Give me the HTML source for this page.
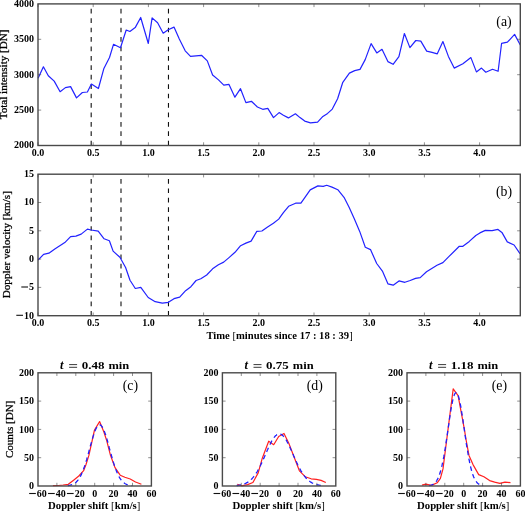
<!DOCTYPE html><html><head><meta charset="utf-8"><style>html,body{margin:0;padding:0;background:#fff;overflow:hidden}svg{display:block;will-change:transform}</style></head><body><svg width="525" height="511" viewBox="0 0 525 511">
<rect width="525" height="511" fill="#fff"/>
<line x1="91.19" y1="145.5" x2="91.19" y2="3.9" stroke="#111" stroke-width="1.1" stroke-dasharray="4.7 4.73"/>
<line x1="121.00" y1="145.5" x2="121.00" y2="3.9" stroke="#111" stroke-width="1.1" stroke-dasharray="4.7 4.73"/>
<line x1="168.47" y1="145.5" x2="168.47" y2="3.9" stroke="#111" stroke-width="1.1" stroke-dasharray="4.7 4.73"/>
<polyline points="38.1,78.2 43.4,66.8 48.3,75.8 54.2,81.1 60.1,91.7 65.4,87.6 70.6,86.6 76.5,97.9 82.4,92.5 87.4,92.0 91.4,84.1 98.4,88.5 103.9,68.4 109.5,57.5 113.5,44.3 120.5,47.8 126.2,30.0 129.9,31.5 135.2,27.6 140.7,17.5 148.3,43.5 152.1,17.9 157.6,22.8 163.2,33.2 168.2,29.7 174.0,27.1 179.3,39.0 185.2,50.8 190.5,56.3 201.5,55.3 207.3,60.9 212.6,75.0 218.5,79.9 223.8,85.2 229.0,84.4 234.9,97.2 240.5,88.7 245.9,102.6 251.4,101.3 257.4,107.0 262.7,109.3 267.8,108.4 273.5,117.6 279.1,112.6 283.4,115.2 288.4,117.9 295.4,113.8 300.0,117.6 304.7,121.1 310.5,122.8 317.6,122.2 322.9,116.4 327.6,113.4 332.3,109.1 337.6,98.8 342.8,82.3 349.4,73.1 354.7,70.6 360.0,69.4 365.2,59.6 371.1,43.6 376.8,52.9 382.0,49.3 387.9,61.6 393.1,64.3 398.9,56.6 404.4,33.5 409.9,47.6 415.8,40.5 420.8,41.1 426.7,51.1 432.0,52.3 437.3,53.8 442.9,41.5 448.4,56.4 454.2,68.1 462.9,63.7 470.9,57.6 476.4,71.9 481.5,68.1 485.8,72.2 492.5,69.3 498.1,71.3 501.6,43.3 507.4,42.2 514.6,34.4 520.3,45.0" fill="none" stroke="#2222ff" stroke-width="1.2" stroke-linejoin="round" />
<rect x="38.0" y="3.9" width="482.30" height="141.60" fill="none" stroke="#4a4a4a" stroke-width="1.4"/>
<line x1="38.00" y1="145.5" x2="38.00" y2="142.3" stroke="#444" stroke-width="0.6"/>
<line x1="38.00" y1="3.9" x2="38.00" y2="7.1" stroke="#444" stroke-width="0.6"/>
<line x1="93.20" y1="145.5" x2="93.20" y2="142.3" stroke="#444" stroke-width="0.6"/>
<line x1="93.20" y1="3.9" x2="93.20" y2="7.1" stroke="#444" stroke-width="0.6"/>
<line x1="148.40" y1="145.5" x2="148.40" y2="142.3" stroke="#444" stroke-width="0.6"/>
<line x1="148.40" y1="3.9" x2="148.40" y2="7.1" stroke="#444" stroke-width="0.6"/>
<line x1="203.60" y1="145.5" x2="203.60" y2="142.3" stroke="#444" stroke-width="0.6"/>
<line x1="203.60" y1="3.9" x2="203.60" y2="7.1" stroke="#444" stroke-width="0.6"/>
<line x1="258.80" y1="145.5" x2="258.80" y2="142.3" stroke="#444" stroke-width="0.6"/>
<line x1="258.80" y1="3.9" x2="258.80" y2="7.1" stroke="#444" stroke-width="0.6"/>
<line x1="314.00" y1="145.5" x2="314.00" y2="142.3" stroke="#444" stroke-width="0.6"/>
<line x1="314.00" y1="3.9" x2="314.00" y2="7.1" stroke="#444" stroke-width="0.6"/>
<line x1="369.20" y1="145.5" x2="369.20" y2="142.3" stroke="#444" stroke-width="0.6"/>
<line x1="369.20" y1="3.9" x2="369.20" y2="7.1" stroke="#444" stroke-width="0.6"/>
<line x1="424.40" y1="145.5" x2="424.40" y2="142.3" stroke="#444" stroke-width="0.6"/>
<line x1="424.40" y1="3.9" x2="424.40" y2="7.1" stroke="#444" stroke-width="0.6"/>
<line x1="479.60" y1="145.5" x2="479.60" y2="142.3" stroke="#444" stroke-width="0.6"/>
<line x1="479.60" y1="3.9" x2="479.60" y2="7.1" stroke="#444" stroke-width="0.6"/>
<line x1="38.0" y1="110.10" x2="41.2" y2="110.10" stroke="#444" stroke-width="0.6"/>
<line x1="520.3" y1="110.10" x2="517.0999999999999" y2="110.10" stroke="#444" stroke-width="0.6"/>
<line x1="38.0" y1="74.70" x2="41.2" y2="74.70" stroke="#444" stroke-width="0.6"/>
<line x1="520.3" y1="74.70" x2="517.0999999999999" y2="74.70" stroke="#444" stroke-width="0.6"/>
<line x1="38.0" y1="39.30" x2="41.2" y2="39.30" stroke="#444" stroke-width="0.6"/>
<line x1="520.3" y1="39.30" x2="517.0999999999999" y2="39.30" stroke="#444" stroke-width="0.6"/>
<text x="38.00" y="156.1" font-size="10" text-anchor="middle" font-weight="bold" style="font-family:'Liberation Serif',serif;" >0.0</text>
<text x="93.20" y="156.1" font-size="10" text-anchor="middle" font-weight="bold" style="font-family:'Liberation Serif',serif;" >0.5</text>
<text x="148.40" y="156.1" font-size="10" text-anchor="middle" font-weight="bold" style="font-family:'Liberation Serif',serif;" >1.0</text>
<text x="203.60" y="156.1" font-size="10" text-anchor="middle" font-weight="bold" style="font-family:'Liberation Serif',serif;" >1.5</text>
<text x="258.80" y="156.1" font-size="10" text-anchor="middle" font-weight="bold" style="font-family:'Liberation Serif',serif;" >2.0</text>
<text x="314.00" y="156.1" font-size="10" text-anchor="middle" font-weight="bold" style="font-family:'Liberation Serif',serif;" >2.5</text>
<text x="369.20" y="156.1" font-size="10" text-anchor="middle" font-weight="bold" style="font-family:'Liberation Serif',serif;" >3.0</text>
<text x="424.40" y="156.1" font-size="10" text-anchor="middle" font-weight="bold" style="font-family:'Liberation Serif',serif;" >3.5</text>
<text x="479.60" y="156.1" font-size="10" text-anchor="middle" font-weight="bold" style="font-family:'Liberation Serif',serif;" >4.0</text>
<text x="34" y="148.40" font-size="10" text-anchor="end" font-weight="bold" style="font-family:'Liberation Serif',serif;" >2000</text>
<text x="34" y="113.00" font-size="10" text-anchor="end" font-weight="bold" style="font-family:'Liberation Serif',serif;" >2500</text>
<text x="34" y="77.60" font-size="10" text-anchor="end" font-weight="bold" style="font-family:'Liberation Serif',serif;" >3000</text>
<text x="34" y="42.20" font-size="10" text-anchor="end" font-weight="bold" style="font-family:'Liberation Serif',serif;" >3500</text>
<text x="34" y="6.80" font-size="10" text-anchor="end" font-weight="bold" style="font-family:'Liberation Serif',serif;" >4000</text>
<text x="0" y="0" font-size="10" textLength="89.80" lengthAdjust="spacingAndGlyphs" transform="translate(7.4,119.30) rotate(-90)" stroke="#000" stroke-width="0.25" style="font-family:'Liberation Serif',serif"><tspan font-weight="normal" font-style="normal">Total intensity [DN]</tspan></text>
<text x="504" y="25.5" font-size="13.8" text-anchor="middle" font-weight="normal" style="font-family:'Liberation Serif',serif;" >(a)</text>
<line x1="91.19" y1="315.7" x2="91.19" y2="174.2" stroke="#111" stroke-width="1.1" stroke-dasharray="4.7 4.73"/>
<line x1="121.00" y1="315.7" x2="121.00" y2="174.2" stroke="#111" stroke-width="1.1" stroke-dasharray="4.7 4.73"/>
<line x1="168.47" y1="315.7" x2="168.47" y2="174.2" stroke="#111" stroke-width="1.1" stroke-dasharray="4.7 4.73"/>
<polyline points="38.1,260.0 40.7,257.3 43.6,254.3 48.9,253.2 54.8,249.0 64.8,242.6 70.6,236.7 75.9,236.1 81.2,234.1 87.4,229.1 91.2,230.0 98.2,231.2 104.1,238.8 109.4,240.8 113.1,251.1 119.9,257.3 125.6,267.5 130.0,280.2 135.3,288.5 140.8,287.3 148.2,297.5 155.2,301.7 162.3,303.1 168.4,302.3 174.0,298.7 179.7,297.2 185.6,290.7 190.9,286.7 196.1,280.5 200.8,278.7 206.7,275.0 212.6,268.8 218.4,264.7 223.7,262.1 229.0,257.6 235.0,252.3 240.6,245.7 245.9,243.1 251.1,241.1 256.8,231.4 261.9,231.0 267.6,226.9 273.4,223.2 278.7,219.1 283.4,212.6 288.6,206.3 295.6,203.2 300.9,203.2 305.5,196.7 310.2,189.9 317.9,185.9 323.2,186.4 326.7,185.3 332.0,187.1 337.8,189.7 344.4,197.9 349.1,207.3 354.4,219.1 359.7,231.4 365.3,247.2 370.5,249.6 376.7,263.5 382.4,271.1 387.9,283.8 393.2,285.2 399.0,280.9 404.9,282.3 410.2,280.5 415.5,278.4 420.2,277.6 426.5,271.7 437.0,265.3 442.9,262.6 448.8,256.7 459.3,246.3 462.9,246.3 469.3,241.4 475.8,235.5 479.9,232.9 485.3,230.4 492.1,230.7 498.0,229.4 501.9,232.4 507.3,241.9 514.1,245.0 520.0,253.7" fill="none" stroke="#2222ff" stroke-width="1.2" stroke-linejoin="round" />
<rect x="38.0" y="174.2" width="482.30" height="141.50" fill="none" stroke="#4a4a4a" stroke-width="1.4"/>
<line x1="38.00" y1="315.7" x2="38.00" y2="312.5" stroke="#444" stroke-width="0.6"/>
<line x1="38.00" y1="174.2" x2="38.00" y2="177.39999999999998" stroke="#444" stroke-width="0.6"/>
<line x1="93.20" y1="315.7" x2="93.20" y2="312.5" stroke="#444" stroke-width="0.6"/>
<line x1="93.20" y1="174.2" x2="93.20" y2="177.39999999999998" stroke="#444" stroke-width="0.6"/>
<line x1="148.40" y1="315.7" x2="148.40" y2="312.5" stroke="#444" stroke-width="0.6"/>
<line x1="148.40" y1="174.2" x2="148.40" y2="177.39999999999998" stroke="#444" stroke-width="0.6"/>
<line x1="203.60" y1="315.7" x2="203.60" y2="312.5" stroke="#444" stroke-width="0.6"/>
<line x1="203.60" y1="174.2" x2="203.60" y2="177.39999999999998" stroke="#444" stroke-width="0.6"/>
<line x1="258.80" y1="315.7" x2="258.80" y2="312.5" stroke="#444" stroke-width="0.6"/>
<line x1="258.80" y1="174.2" x2="258.80" y2="177.39999999999998" stroke="#444" stroke-width="0.6"/>
<line x1="314.00" y1="315.7" x2="314.00" y2="312.5" stroke="#444" stroke-width="0.6"/>
<line x1="314.00" y1="174.2" x2="314.00" y2="177.39999999999998" stroke="#444" stroke-width="0.6"/>
<line x1="369.20" y1="315.7" x2="369.20" y2="312.5" stroke="#444" stroke-width="0.6"/>
<line x1="369.20" y1="174.2" x2="369.20" y2="177.39999999999998" stroke="#444" stroke-width="0.6"/>
<line x1="424.40" y1="315.7" x2="424.40" y2="312.5" stroke="#444" stroke-width="0.6"/>
<line x1="424.40" y1="174.2" x2="424.40" y2="177.39999999999998" stroke="#444" stroke-width="0.6"/>
<line x1="479.60" y1="315.7" x2="479.60" y2="312.5" stroke="#444" stroke-width="0.6"/>
<line x1="479.60" y1="174.2" x2="479.60" y2="177.39999999999998" stroke="#444" stroke-width="0.6"/>
<line x1="38.0" y1="287.40" x2="41.2" y2="287.40" stroke="#444" stroke-width="0.6"/>
<line x1="520.3" y1="287.40" x2="517.0999999999999" y2="287.40" stroke="#444" stroke-width="0.6"/>
<line x1="38.0" y1="259.10" x2="41.2" y2="259.10" stroke="#444" stroke-width="0.6"/>
<line x1="520.3" y1="259.10" x2="517.0999999999999" y2="259.10" stroke="#444" stroke-width="0.6"/>
<line x1="38.0" y1="230.80" x2="41.2" y2="230.80" stroke="#444" stroke-width="0.6"/>
<line x1="520.3" y1="230.80" x2="517.0999999999999" y2="230.80" stroke="#444" stroke-width="0.6"/>
<line x1="38.0" y1="202.50" x2="41.2" y2="202.50" stroke="#444" stroke-width="0.6"/>
<line x1="520.3" y1="202.50" x2="517.0999999999999" y2="202.50" stroke="#444" stroke-width="0.6"/>
<text x="38.00" y="326.1" font-size="10" text-anchor="middle" font-weight="bold" style="font-family:'Liberation Serif',serif;" >0.0</text>
<text x="93.20" y="326.1" font-size="10" text-anchor="middle" font-weight="bold" style="font-family:'Liberation Serif',serif;" >0.5</text>
<text x="148.40" y="326.1" font-size="10" text-anchor="middle" font-weight="bold" style="font-family:'Liberation Serif',serif;" >1.0</text>
<text x="203.60" y="326.1" font-size="10" text-anchor="middle" font-weight="bold" style="font-family:'Liberation Serif',serif;" >1.5</text>
<text x="258.80" y="326.1" font-size="10" text-anchor="middle" font-weight="bold" style="font-family:'Liberation Serif',serif;" >2.0</text>
<text x="314.00" y="326.1" font-size="10" text-anchor="middle" font-weight="bold" style="font-family:'Liberation Serif',serif;" >2.5</text>
<text x="369.20" y="326.1" font-size="10" text-anchor="middle" font-weight="bold" style="font-family:'Liberation Serif',serif;" >3.0</text>
<text x="424.40" y="326.1" font-size="10" text-anchor="middle" font-weight="bold" style="font-family:'Liberation Serif',serif;" >3.5</text>
<text x="479.60" y="326.1" font-size="10" text-anchor="middle" font-weight="bold" style="font-family:'Liberation Serif',serif;" >4.0</text>
<line x1="16.30" y1="315.30" x2="23.00" y2="315.30" stroke="#111" stroke-width="1.1"/>
<text x="24.00" y="318.60" font-size="10" font-weight="bold" style="font-family:'Liberation Serif',serif">10</text>
<line x1="21.30" y1="287.00" x2="28.00" y2="287.00" stroke="#111" stroke-width="1.1"/>
<text x="29.00" y="290.30" font-size="10" font-weight="bold" style="font-family:'Liberation Serif',serif">5</text>
<text x="29.00" y="262.00" font-size="10" font-weight="bold" style="font-family:'Liberation Serif',serif">0</text>
<text x="29.00" y="233.70" font-size="10" font-weight="bold" style="font-family:'Liberation Serif',serif">5</text>
<text x="24.00" y="205.40" font-size="10" font-weight="bold" style="font-family:'Liberation Serif',serif">10</text>
<text x="24.00" y="177.10" font-size="10" font-weight="bold" style="font-family:'Liberation Serif',serif">15</text>
<text x="0" y="0" font-size="10" textLength="107.20" lengthAdjust="spacingAndGlyphs" transform="translate(9.6,298.30) rotate(-90)" stroke="#000" stroke-width="0.25" style="font-family:'Liberation Serif',serif"><tspan font-weight="normal" font-style="normal">Doppler velocity [km/s]</tspan></text>
<text x="504" y="195.8" font-size="13.8" text-anchor="middle" font-weight="normal" style="font-family:'Liberation Serif',serif;" >(b)</text>
<text x="206.40" y="339.3" font-size="10" textLength="146.30" lengthAdjust="spacingAndGlyphs" style="font-family:'Liberation Serif',serif"><tspan font-weight="bold" font-style="normal">Time </tspan><tspan font-weight="normal" font-style="normal">[</tspan><tspan font-weight="bold" font-style="normal">minutes since 17 : 18 : 39</tspan><tspan font-weight="normal" font-style="normal">]</tspan></text>
<polyline points="52.9,485.7 58.3,485.5 63.1,485.0 68.3,484.3 73.6,480.2 78.8,476.0 83.6,470.7 86.0,464.5 88.9,455.4 94.5,430.0 99.6,421.6 103.9,432.0 106.7,440.6 110.3,454.7 115.0,467.6 120.2,475.2 124.9,477.3 130.2,479.0 135.5,482.0 141.4,484.2" fill="none" stroke="#ff2020" stroke-width="1.2" stroke-linejoin="round" />
<polyline points="67.8,485.6 68.2,485.5 68.7,485.5 69.2,485.4 69.7,485.3 70.1,485.2 70.6,485.1 71.1,484.9 71.5,484.8 72.0,484.6 72.5,484.4 73.0,484.2 73.4,484.0 73.9,483.7 74.4,483.4 74.9,483.1 75.3,482.8 75.8,482.4 76.3,482.0 76.7,481.5 77.2,481.0 77.7,480.4 78.2,479.8 78.6,479.2 79.1,478.5 79.6,477.7 80.1,476.9 80.5,476.1 81.0,475.1 81.5,474.1 81.9,473.1 82.4,472.0 82.9,470.8 83.4,469.6 83.8,468.3 84.3,467.0 84.8,465.6 85.2,464.1 85.7,462.6 86.2,461.1 86.7,459.5 87.1,457.8 87.6,456.2 88.1,454.5 88.6,452.8 89.0,451.0 89.5,449.3 90.0,447.5 90.4,445.8 90.9,444.1 91.4,442.4 91.9,440.7 92.3,439.0 92.8,437.5 93.3,435.9 93.8,434.5 94.2,433.1 94.7,431.8 95.2,430.6 95.6,429.5 96.1,428.5 96.6,427.6 97.1,426.8 97.5,426.2 98.0,425.7 98.5,425.3 99.0,425.0 99.4,424.9 99.9,424.9 100.4,425.0 100.8,425.3 101.3,425.7 101.8,426.3 102.3,427.0 102.7,427.8 103.2,428.7 103.7,429.7 104.1,430.8 104.6,432.1 105.1,433.4 105.6,434.8 106.0,436.2 106.5,437.8 107.0,439.4 107.5,441.0 107.9,442.7 108.4,444.4 108.9,446.1 109.3,447.9 109.8,449.6 110.3,451.4 110.8,453.1 111.2,454.8 111.7,456.5 112.2,458.2 112.7,459.8 113.1,461.4 113.6,462.9 114.1,464.4 114.5,465.9 115.0,467.3 115.5,468.6 116.0,469.9 116.4,471.1 116.9,472.2 117.4,473.3 117.9,474.3 118.3,475.3 118.8,476.2 119.3,477.1 119.7,477.9 120.2,478.6 120.7,479.3 121.2,480.0 121.6,480.5 122.1,481.1 122.6,481.6 123.0,482.0 123.5,482.5 124.0,482.8 124.5,483.2 124.9,483.5 125.4,483.8 125.9,484.0 126.4,484.3 126.8,484.5 127.3,484.7 127.8,484.8 128.2,485.0 128.7,485.1 129.2,485.2 129.7,485.3 130.1,485.4 130.6,485.5 131.1,485.6 131.6,485.6" fill="none" stroke="#2020ff" stroke-width="1.3" stroke-linejoin="round" stroke-dasharray="4.5 3.5"/>
<rect x="38.0" y="372.8" width="113.40" height="113.20" fill="none" stroke="#4a4a4a" stroke-width="1.4"/>
<line x1="56.90" y1="486.0" x2="56.90" y2="482.8" stroke="#444" stroke-width="0.6"/>
<line x1="56.90" y1="372.8" x2="56.90" y2="376.0" stroke="#444" stroke-width="0.6"/>
<line x1="75.80" y1="486.0" x2="75.80" y2="482.8" stroke="#444" stroke-width="0.6"/>
<line x1="75.80" y1="372.8" x2="75.80" y2="376.0" stroke="#444" stroke-width="0.6"/>
<line x1="94.70" y1="486.0" x2="94.70" y2="482.8" stroke="#444" stroke-width="0.6"/>
<line x1="94.70" y1="372.8" x2="94.70" y2="376.0" stroke="#444" stroke-width="0.6"/>
<line x1="113.60" y1="486.0" x2="113.60" y2="482.8" stroke="#444" stroke-width="0.6"/>
<line x1="113.60" y1="372.8" x2="113.60" y2="376.0" stroke="#444" stroke-width="0.6"/>
<line x1="132.50" y1="486.0" x2="132.50" y2="482.8" stroke="#444" stroke-width="0.6"/>
<line x1="132.50" y1="372.8" x2="132.50" y2="376.0" stroke="#444" stroke-width="0.6"/>
<line x1="38.0" y1="457.70" x2="41.2" y2="457.70" stroke="#444" stroke-width="0.6"/>
<line x1="151.4" y1="457.70" x2="148.20000000000002" y2="457.70" stroke="#444" stroke-width="0.6"/>
<line x1="38.0" y1="429.40" x2="41.2" y2="429.40" stroke="#444" stroke-width="0.6"/>
<line x1="151.4" y1="429.40" x2="148.20000000000002" y2="429.40" stroke="#444" stroke-width="0.6"/>
<line x1="38.0" y1="401.10" x2="41.2" y2="401.10" stroke="#444" stroke-width="0.6"/>
<line x1="151.4" y1="401.10" x2="148.20000000000002" y2="401.10" stroke="#444" stroke-width="0.6"/>
<line x1="29.15" y1="493.50" x2="35.85" y2="493.50" stroke="#111" stroke-width="1.1"/>
<text x="36.85" y="496.80" font-size="10" font-weight="bold" style="font-family:'Liberation Serif',serif">60</text>
<line x1="48.05" y1="493.50" x2="54.75" y2="493.50" stroke="#111" stroke-width="1.1"/>
<text x="55.75" y="496.80" font-size="10" font-weight="bold" style="font-family:'Liberation Serif',serif">40</text>
<line x1="66.95" y1="493.50" x2="73.65" y2="493.50" stroke="#111" stroke-width="1.1"/>
<text x="74.65" y="496.80" font-size="10" font-weight="bold" style="font-family:'Liberation Serif',serif">20</text>
<text x="92.20" y="496.80" font-size="10" font-weight="bold" style="font-family:'Liberation Serif',serif">0</text>
<text x="108.60" y="496.80" font-size="10" font-weight="bold" style="font-family:'Liberation Serif',serif">20</text>
<text x="127.50" y="496.80" font-size="10" font-weight="bold" style="font-family:'Liberation Serif',serif">40</text>
<text x="146.40" y="496.80" font-size="10" font-weight="bold" style="font-family:'Liberation Serif',serif">60</text>
<text x="34.00" y="489.20" font-size="10" text-anchor="end" font-weight="bold" style="font-family:'Liberation Serif',serif;" >0</text>
<text x="34.00" y="460.90" font-size="10" text-anchor="end" font-weight="bold" style="font-family:'Liberation Serif',serif;" >50</text>
<text x="34.00" y="432.60" font-size="10" text-anchor="end" font-weight="bold" style="font-family:'Liberation Serif',serif;" >100</text>
<text x="34.00" y="404.30" font-size="10" text-anchor="end" font-weight="bold" style="font-family:'Liberation Serif',serif;" >150</text>
<text x="34.00" y="376.00" font-size="10" text-anchor="end" font-weight="bold" style="font-family:'Liberation Serif',serif;" >200</text>
<text x="60.00" y="368.7" font-size="12.5" font-style="italic" font-weight="bold" style="font-family:'Liberation Serif',serif">t</text>
<line x1="69.10" y1="364.6" x2="77.10" y2="364.6" stroke="#222" stroke-width="0.9"/>
<line x1="69.10" y1="367.3" x2="77.10" y2="367.3" stroke="#222" stroke-width="0.9"/>
<text x="81.70" y="368.6" font-size="11" textLength="22.70" lengthAdjust="spacingAndGlyphs" style="font-family:'Liberation Serif',serif"><tspan font-weight="bold" font-style="normal">0.48</tspan></text>
<text x="108.40" y="368.6" font-size="11" textLength="20.80" lengthAdjust="spacingAndGlyphs" style="font-family:'Liberation Serif',serif"><tspan font-weight="bold" font-style="normal">min</tspan></text>
<text x="130.40" y="389.7" font-size="13.8" text-anchor="middle" font-weight="normal" style="font-family:'Liberation Serif',serif;" >(c)</text>
<text x="48.00" y="508.9" font-size="10" textLength="92.40" lengthAdjust="spacingAndGlyphs" style="font-family:'Liberation Serif',serif"><tspan font-weight="bold" font-style="normal">Doppler shift </tspan><tspan font-weight="normal" font-style="normal">[</tspan><tspan font-weight="bold" font-style="normal">km/s</tspan><tspan font-weight="normal" font-style="normal">]</tspan></text>
<polyline points="237.3,484.2 241.7,485.8 247.6,484.6 252.9,482.5 258.2,472.9 262.3,458.2 265.2,450.5 268.7,441.2 273.7,444.7 278.7,436.5 284.0,433.5 288.8,443.2 293.5,455.5 299.4,470.8 305.2,476.7 311.1,478.8 316.4,479.4 321.1,480.4 325.8,482.5" fill="none" stroke="#ff2020" stroke-width="1.2" stroke-linejoin="round" />
<polyline points="236.6,485.6 237.0,485.5 237.5,485.5 238.0,485.4 238.5,485.3 238.9,485.3 239.4,485.2 239.9,485.1 240.4,485.0 240.8,484.9 241.3,484.8 241.8,484.7 242.2,484.6 242.7,484.4 243.2,484.3 243.7,484.1 244.1,484.0 244.6,483.8 245.1,483.6 245.6,483.4 246.0,483.2 246.5,482.9 247.0,482.6 247.4,482.4 247.9,482.1 248.4,481.8 248.9,481.4 249.3,481.1 249.8,480.7 250.3,480.3 250.8,479.9 251.2,479.4 251.7,479.0 252.2,478.5 252.6,477.9 253.1,477.4 253.6,476.8 254.1,476.2 254.5,475.6 255.0,474.9 255.5,474.3 255.9,473.6 256.4,472.8 256.9,472.1 257.4,471.3 257.8,470.5 258.3,469.6 258.8,468.7 259.3,467.9 259.7,466.9 260.2,466.0 260.7,465.0 261.1,464.1 261.6,463.1 262.1,462.1 262.6,461.0 263.0,460.0 263.5,458.9 264.0,457.9 264.5,456.8 264.9,455.7 265.4,454.6 265.9,453.6 266.3,452.5 266.8,451.4 267.3,450.3 267.8,449.3 268.2,448.2 268.7,447.2 269.2,446.2 269.6,445.2 270.1,444.2 270.6,443.3 271.1,442.4 271.5,441.5 272.0,440.7 272.5,439.9 273.0,439.1 273.4,438.4 273.9,437.7 274.4,437.1 274.8,436.6 275.3,436.0 275.8,435.6 276.3,435.2 276.7,434.8 277.2,434.5 277.7,434.3 278.2,434.1 278.6,434.0 279.1,433.9 279.6,433.9 280.0,434.0 280.5,434.1 281.0,434.3 281.5,434.6 281.9,434.9 282.4,435.2 282.9,435.7 283.4,436.1 283.8,436.7 284.3,437.2 284.8,437.9 285.2,438.6 285.7,439.3 286.2,440.0 286.7,440.9 287.1,441.7 287.6,442.6 288.1,443.5 288.6,444.4 289.0,445.4 289.5,446.4 290.0,447.4 290.4,448.4 290.9,449.5 291.4,450.5 291.9,451.6 292.3,452.7 292.8,453.8 293.3,454.8 293.7,455.9 294.2,457.0 294.7,458.1 295.2,459.1 295.6,460.2 296.1,461.2 296.6,462.3 297.1,463.3 297.5,464.3 298.0,465.2 298.5,466.2 298.9,467.1 299.4,468.0 299.9,468.9 300.4,469.8 300.8,470.6 301.3,471.4 301.8,472.2 302.3,473.0 302.7,473.7 303.2,474.4 303.7,475.1 304.1,475.7 304.6,476.3 305.1,476.9 305.6,477.5 306.0,478.0 306.5,478.6 307.0,479.0 307.4,479.5 307.9,480.0 308.4,480.4 308.9,480.8 309.3,481.1 309.8,481.5 310.3,481.8 310.8,482.1 311.2,482.4 311.7,482.7 312.2,483.0 312.6,483.2 313.1,483.4 313.6,483.6 314.1,483.8 314.5,484.0 315.0,484.2 315.5,484.3 316.0,484.5 316.4,484.6 316.9,484.7 317.4,484.8 317.8,485.0 318.3,485.0 318.8,485.1 319.3,485.2 319.7,485.3 320.2,485.4 320.7,485.4 321.2,485.5 321.6,485.5 322.1,485.6 322.6,485.6 323.0,485.7" fill="none" stroke="#2020ff" stroke-width="1.3" stroke-linejoin="round" stroke-dasharray="4.5 3.5"/>
<rect x="222.4" y="372.8" width="113.40" height="113.20" fill="none" stroke="#4a4a4a" stroke-width="1.4"/>
<line x1="241.30" y1="486.0" x2="241.30" y2="482.8" stroke="#444" stroke-width="0.6"/>
<line x1="241.30" y1="372.8" x2="241.30" y2="376.0" stroke="#444" stroke-width="0.6"/>
<line x1="260.20" y1="486.0" x2="260.20" y2="482.8" stroke="#444" stroke-width="0.6"/>
<line x1="260.20" y1="372.8" x2="260.20" y2="376.0" stroke="#444" stroke-width="0.6"/>
<line x1="279.10" y1="486.0" x2="279.10" y2="482.8" stroke="#444" stroke-width="0.6"/>
<line x1="279.10" y1="372.8" x2="279.10" y2="376.0" stroke="#444" stroke-width="0.6"/>
<line x1="298.00" y1="486.0" x2="298.00" y2="482.8" stroke="#444" stroke-width="0.6"/>
<line x1="298.00" y1="372.8" x2="298.00" y2="376.0" stroke="#444" stroke-width="0.6"/>
<line x1="316.90" y1="486.0" x2="316.90" y2="482.8" stroke="#444" stroke-width="0.6"/>
<line x1="316.90" y1="372.8" x2="316.90" y2="376.0" stroke="#444" stroke-width="0.6"/>
<line x1="222.4" y1="457.70" x2="225.6" y2="457.70" stroke="#444" stroke-width="0.6"/>
<line x1="335.8" y1="457.70" x2="332.6" y2="457.70" stroke="#444" stroke-width="0.6"/>
<line x1="222.4" y1="429.40" x2="225.6" y2="429.40" stroke="#444" stroke-width="0.6"/>
<line x1="335.8" y1="429.40" x2="332.6" y2="429.40" stroke="#444" stroke-width="0.6"/>
<line x1="222.4" y1="401.10" x2="225.6" y2="401.10" stroke="#444" stroke-width="0.6"/>
<line x1="335.8" y1="401.10" x2="332.6" y2="401.10" stroke="#444" stroke-width="0.6"/>
<line x1="213.55" y1="493.50" x2="220.25" y2="493.50" stroke="#111" stroke-width="1.1"/>
<text x="221.25" y="496.80" font-size="10" font-weight="bold" style="font-family:'Liberation Serif',serif">60</text>
<line x1="232.45" y1="493.50" x2="239.15" y2="493.50" stroke="#111" stroke-width="1.1"/>
<text x="240.15" y="496.80" font-size="10" font-weight="bold" style="font-family:'Liberation Serif',serif">40</text>
<line x1="251.35" y1="493.50" x2="258.05" y2="493.50" stroke="#111" stroke-width="1.1"/>
<text x="259.05" y="496.80" font-size="10" font-weight="bold" style="font-family:'Liberation Serif',serif">20</text>
<text x="276.60" y="496.80" font-size="10" font-weight="bold" style="font-family:'Liberation Serif',serif">0</text>
<text x="293.00" y="496.80" font-size="10" font-weight="bold" style="font-family:'Liberation Serif',serif">20</text>
<text x="311.90" y="496.80" font-size="10" font-weight="bold" style="font-family:'Liberation Serif',serif">40</text>
<text x="330.80" y="496.80" font-size="10" font-weight="bold" style="font-family:'Liberation Serif',serif">60</text>
<text x="218.40" y="489.20" font-size="10" text-anchor="end" font-weight="bold" style="font-family:'Liberation Serif',serif;" >0</text>
<text x="218.40" y="460.90" font-size="10" text-anchor="end" font-weight="bold" style="font-family:'Liberation Serif',serif;" >50</text>
<text x="218.40" y="432.60" font-size="10" text-anchor="end" font-weight="bold" style="font-family:'Liberation Serif',serif;" >100</text>
<text x="218.40" y="404.30" font-size="10" text-anchor="end" font-weight="bold" style="font-family:'Liberation Serif',serif;" >150</text>
<text x="218.40" y="376.00" font-size="10" text-anchor="end" font-weight="bold" style="font-family:'Liberation Serif',serif;" >200</text>
<text x="244.40" y="368.7" font-size="12.5" font-style="italic" font-weight="bold" style="font-family:'Liberation Serif',serif">t</text>
<line x1="253.50" y1="364.6" x2="261.50" y2="364.6" stroke="#222" stroke-width="0.9"/>
<line x1="253.50" y1="367.3" x2="261.50" y2="367.3" stroke="#222" stroke-width="0.9"/>
<text x="266.10" y="368.6" font-size="11" textLength="22.70" lengthAdjust="spacingAndGlyphs" style="font-family:'Liberation Serif',serif"><tspan font-weight="bold" font-style="normal">0.75</tspan></text>
<text x="292.80" y="368.6" font-size="11" textLength="20.80" lengthAdjust="spacingAndGlyphs" style="font-family:'Liberation Serif',serif"><tspan font-weight="bold" font-style="normal">min</tspan></text>
<text x="314.80" y="389.7" font-size="13.8" text-anchor="middle" font-weight="normal" style="font-family:'Liberation Serif',serif;" >(d)</text>
<text x="232.40" y="508.9" font-size="10" textLength="92.40" lengthAdjust="spacingAndGlyphs" style="font-family:'Liberation Serif',serif"><tspan font-weight="bold" font-style="normal">Doppler shift </tspan><tspan font-weight="normal" font-style="normal">[</tspan><tspan font-weight="bold" font-style="normal">km/s</tspan><tspan font-weight="normal" font-style="normal">]</tspan></text>
<polyline points="422.0,485.1 425.8,484.1 431.5,485.4 437.2,482.8 440.4,478.4 443.0,468.9 453.2,388.8 458.1,395.6 464.4,429.4 466.1,440.0 469.0,455.4 473.0,464.6 478.7,474.6 483.9,476.8 489.6,480.6 494.7,482.1 499.9,483.4 505.0,482.1 510.5,482.6" fill="none" stroke="#ff2020" stroke-width="1.2" stroke-linejoin="round" />
<polyline points="429.2,485.6 429.7,485.5 430.2,485.4 430.6,485.3 431.1,485.2 431.6,485.0 432.0,484.8 432.5,484.6 433.0,484.4 433.5,484.1 433.9,483.8 434.4,483.4 434.9,483.0 435.4,482.5 435.8,481.9 436.3,481.3 436.8,480.5 437.2,479.7 437.7,478.9 438.2,477.9 438.7,476.8 439.1,475.6 439.6,474.2 440.1,472.8 440.5,471.2 441.0,469.5 441.5,467.6 442.0,465.6 442.4,463.5 442.9,461.2 443.4,458.8 443.9,456.2 444.3,453.5 444.8,450.7 445.3,447.8 445.7,444.8 446.2,441.7 446.7,438.5 447.2,435.3 447.6,432.0 448.1,428.7 448.6,425.4 449.1,422.2 449.5,418.9 450.0,415.8 450.5,412.8 450.9,409.9 451.4,407.1 451.9,404.6 452.4,402.2 452.8,400.0 453.3,398.1 453.8,396.5 454.2,395.1 454.7,394.0 455.2,393.2 455.7,392.8 456.1,392.6 456.6,392.8 457.1,393.2 457.6,394.0 458.0,395.1 458.5,396.5 459.0,398.1 459.4,400.0 459.9,402.2 460.4,404.6 460.9,407.1 461.3,409.9 461.8,412.8 462.3,415.8 462.8,418.9 463.2,422.2 463.7,425.4 464.2,428.7 464.6,432.0 465.1,435.3 465.6,438.5 466.1,441.7 466.5,444.8 467.0,447.8 467.5,450.7 468.0,453.5 468.4,456.2 468.9,458.8 469.4,461.2 469.8,463.5 470.3,465.6 470.8,467.6 471.3,469.5 471.7,471.2 472.2,472.8 472.7,474.2 473.1,475.6 473.6,476.8 474.1,477.9 474.6,478.9 475.0,479.7 475.5,480.5 476.0,481.3 476.5,481.9 476.9,482.5 477.4,483.0 477.9,483.4 478.3,483.8 478.8,484.1 479.3,484.4 479.8,484.6 480.2,484.8 480.7,485.0 481.2,485.2 481.7,485.3 482.1,485.4 482.6,485.5 483.1,485.6" fill="none" stroke="#2020ff" stroke-width="1.3" stroke-linejoin="round" stroke-dasharray="4.5 3.5"/>
<rect x="407.0" y="372.8" width="113.40" height="113.20" fill="none" stroke="#4a4a4a" stroke-width="1.4"/>
<line x1="425.90" y1="486.0" x2="425.90" y2="482.8" stroke="#444" stroke-width="0.6"/>
<line x1="425.90" y1="372.8" x2="425.90" y2="376.0" stroke="#444" stroke-width="0.6"/>
<line x1="444.80" y1="486.0" x2="444.80" y2="482.8" stroke="#444" stroke-width="0.6"/>
<line x1="444.80" y1="372.8" x2="444.80" y2="376.0" stroke="#444" stroke-width="0.6"/>
<line x1="463.70" y1="486.0" x2="463.70" y2="482.8" stroke="#444" stroke-width="0.6"/>
<line x1="463.70" y1="372.8" x2="463.70" y2="376.0" stroke="#444" stroke-width="0.6"/>
<line x1="482.60" y1="486.0" x2="482.60" y2="482.8" stroke="#444" stroke-width="0.6"/>
<line x1="482.60" y1="372.8" x2="482.60" y2="376.0" stroke="#444" stroke-width="0.6"/>
<line x1="501.50" y1="486.0" x2="501.50" y2="482.8" stroke="#444" stroke-width="0.6"/>
<line x1="501.50" y1="372.8" x2="501.50" y2="376.0" stroke="#444" stroke-width="0.6"/>
<line x1="407.0" y1="457.70" x2="410.2" y2="457.70" stroke="#444" stroke-width="0.6"/>
<line x1="520.4" y1="457.70" x2="517.1999999999999" y2="457.70" stroke="#444" stroke-width="0.6"/>
<line x1="407.0" y1="429.40" x2="410.2" y2="429.40" stroke="#444" stroke-width="0.6"/>
<line x1="520.4" y1="429.40" x2="517.1999999999999" y2="429.40" stroke="#444" stroke-width="0.6"/>
<line x1="407.0" y1="401.10" x2="410.2" y2="401.10" stroke="#444" stroke-width="0.6"/>
<line x1="520.4" y1="401.10" x2="517.1999999999999" y2="401.10" stroke="#444" stroke-width="0.6"/>
<line x1="398.15" y1="493.50" x2="404.85" y2="493.50" stroke="#111" stroke-width="1.1"/>
<text x="405.85" y="496.80" font-size="10" font-weight="bold" style="font-family:'Liberation Serif',serif">60</text>
<line x1="417.05" y1="493.50" x2="423.75" y2="493.50" stroke="#111" stroke-width="1.1"/>
<text x="424.75" y="496.80" font-size="10" font-weight="bold" style="font-family:'Liberation Serif',serif">40</text>
<line x1="435.95" y1="493.50" x2="442.65" y2="493.50" stroke="#111" stroke-width="1.1"/>
<text x="443.65" y="496.80" font-size="10" font-weight="bold" style="font-family:'Liberation Serif',serif">20</text>
<text x="461.20" y="496.80" font-size="10" font-weight="bold" style="font-family:'Liberation Serif',serif">0</text>
<text x="477.60" y="496.80" font-size="10" font-weight="bold" style="font-family:'Liberation Serif',serif">20</text>
<text x="496.50" y="496.80" font-size="10" font-weight="bold" style="font-family:'Liberation Serif',serif">40</text>
<text x="515.40" y="496.80" font-size="10" font-weight="bold" style="font-family:'Liberation Serif',serif">60</text>
<text x="403.00" y="489.20" font-size="10" text-anchor="end" font-weight="bold" style="font-family:'Liberation Serif',serif;" >0</text>
<text x="403.00" y="460.90" font-size="10" text-anchor="end" font-weight="bold" style="font-family:'Liberation Serif',serif;" >50</text>
<text x="403.00" y="432.60" font-size="10" text-anchor="end" font-weight="bold" style="font-family:'Liberation Serif',serif;" >100</text>
<text x="403.00" y="404.30" font-size="10" text-anchor="end" font-weight="bold" style="font-family:'Liberation Serif',serif;" >150</text>
<text x="403.00" y="376.00" font-size="10" text-anchor="end" font-weight="bold" style="font-family:'Liberation Serif',serif;" >200</text>
<text x="429.00" y="368.7" font-size="12.5" font-style="italic" font-weight="bold" style="font-family:'Liberation Serif',serif">t</text>
<line x1="438.10" y1="364.6" x2="446.10" y2="364.6" stroke="#222" stroke-width="0.9"/>
<line x1="438.10" y1="367.3" x2="446.10" y2="367.3" stroke="#222" stroke-width="0.9"/>
<text x="450.70" y="368.6" font-size="11" textLength="22.70" lengthAdjust="spacingAndGlyphs" style="font-family:'Liberation Serif',serif"><tspan font-weight="bold" font-style="normal">1.18</tspan></text>
<text x="477.40" y="368.6" font-size="11" textLength="20.80" lengthAdjust="spacingAndGlyphs" style="font-family:'Liberation Serif',serif"><tspan font-weight="bold" font-style="normal">min</tspan></text>
<text x="499.40" y="389.7" font-size="13.8" text-anchor="middle" font-weight="normal" style="font-family:'Liberation Serif',serif;" >(e)</text>
<text x="417.00" y="508.9" font-size="10" textLength="92.40" lengthAdjust="spacingAndGlyphs" style="font-family:'Liberation Serif',serif"><tspan font-weight="bold" font-style="normal">Doppler shift </tspan><tspan font-weight="normal" font-style="normal">[</tspan><tspan font-weight="bold" font-style="normal">km/s</tspan><tspan font-weight="normal" font-style="normal">]</tspan></text>
<text x="0" y="0" font-size="10" textLength="57.50" lengthAdjust="spacingAndGlyphs" transform="translate(13.0,458.10) rotate(-90)" stroke="#000" stroke-width="0.25" style="font-family:'Liberation Serif',serif"><tspan font-weight="normal" font-style="normal">Counts [DN]</tspan></text>
</svg></body></html>
